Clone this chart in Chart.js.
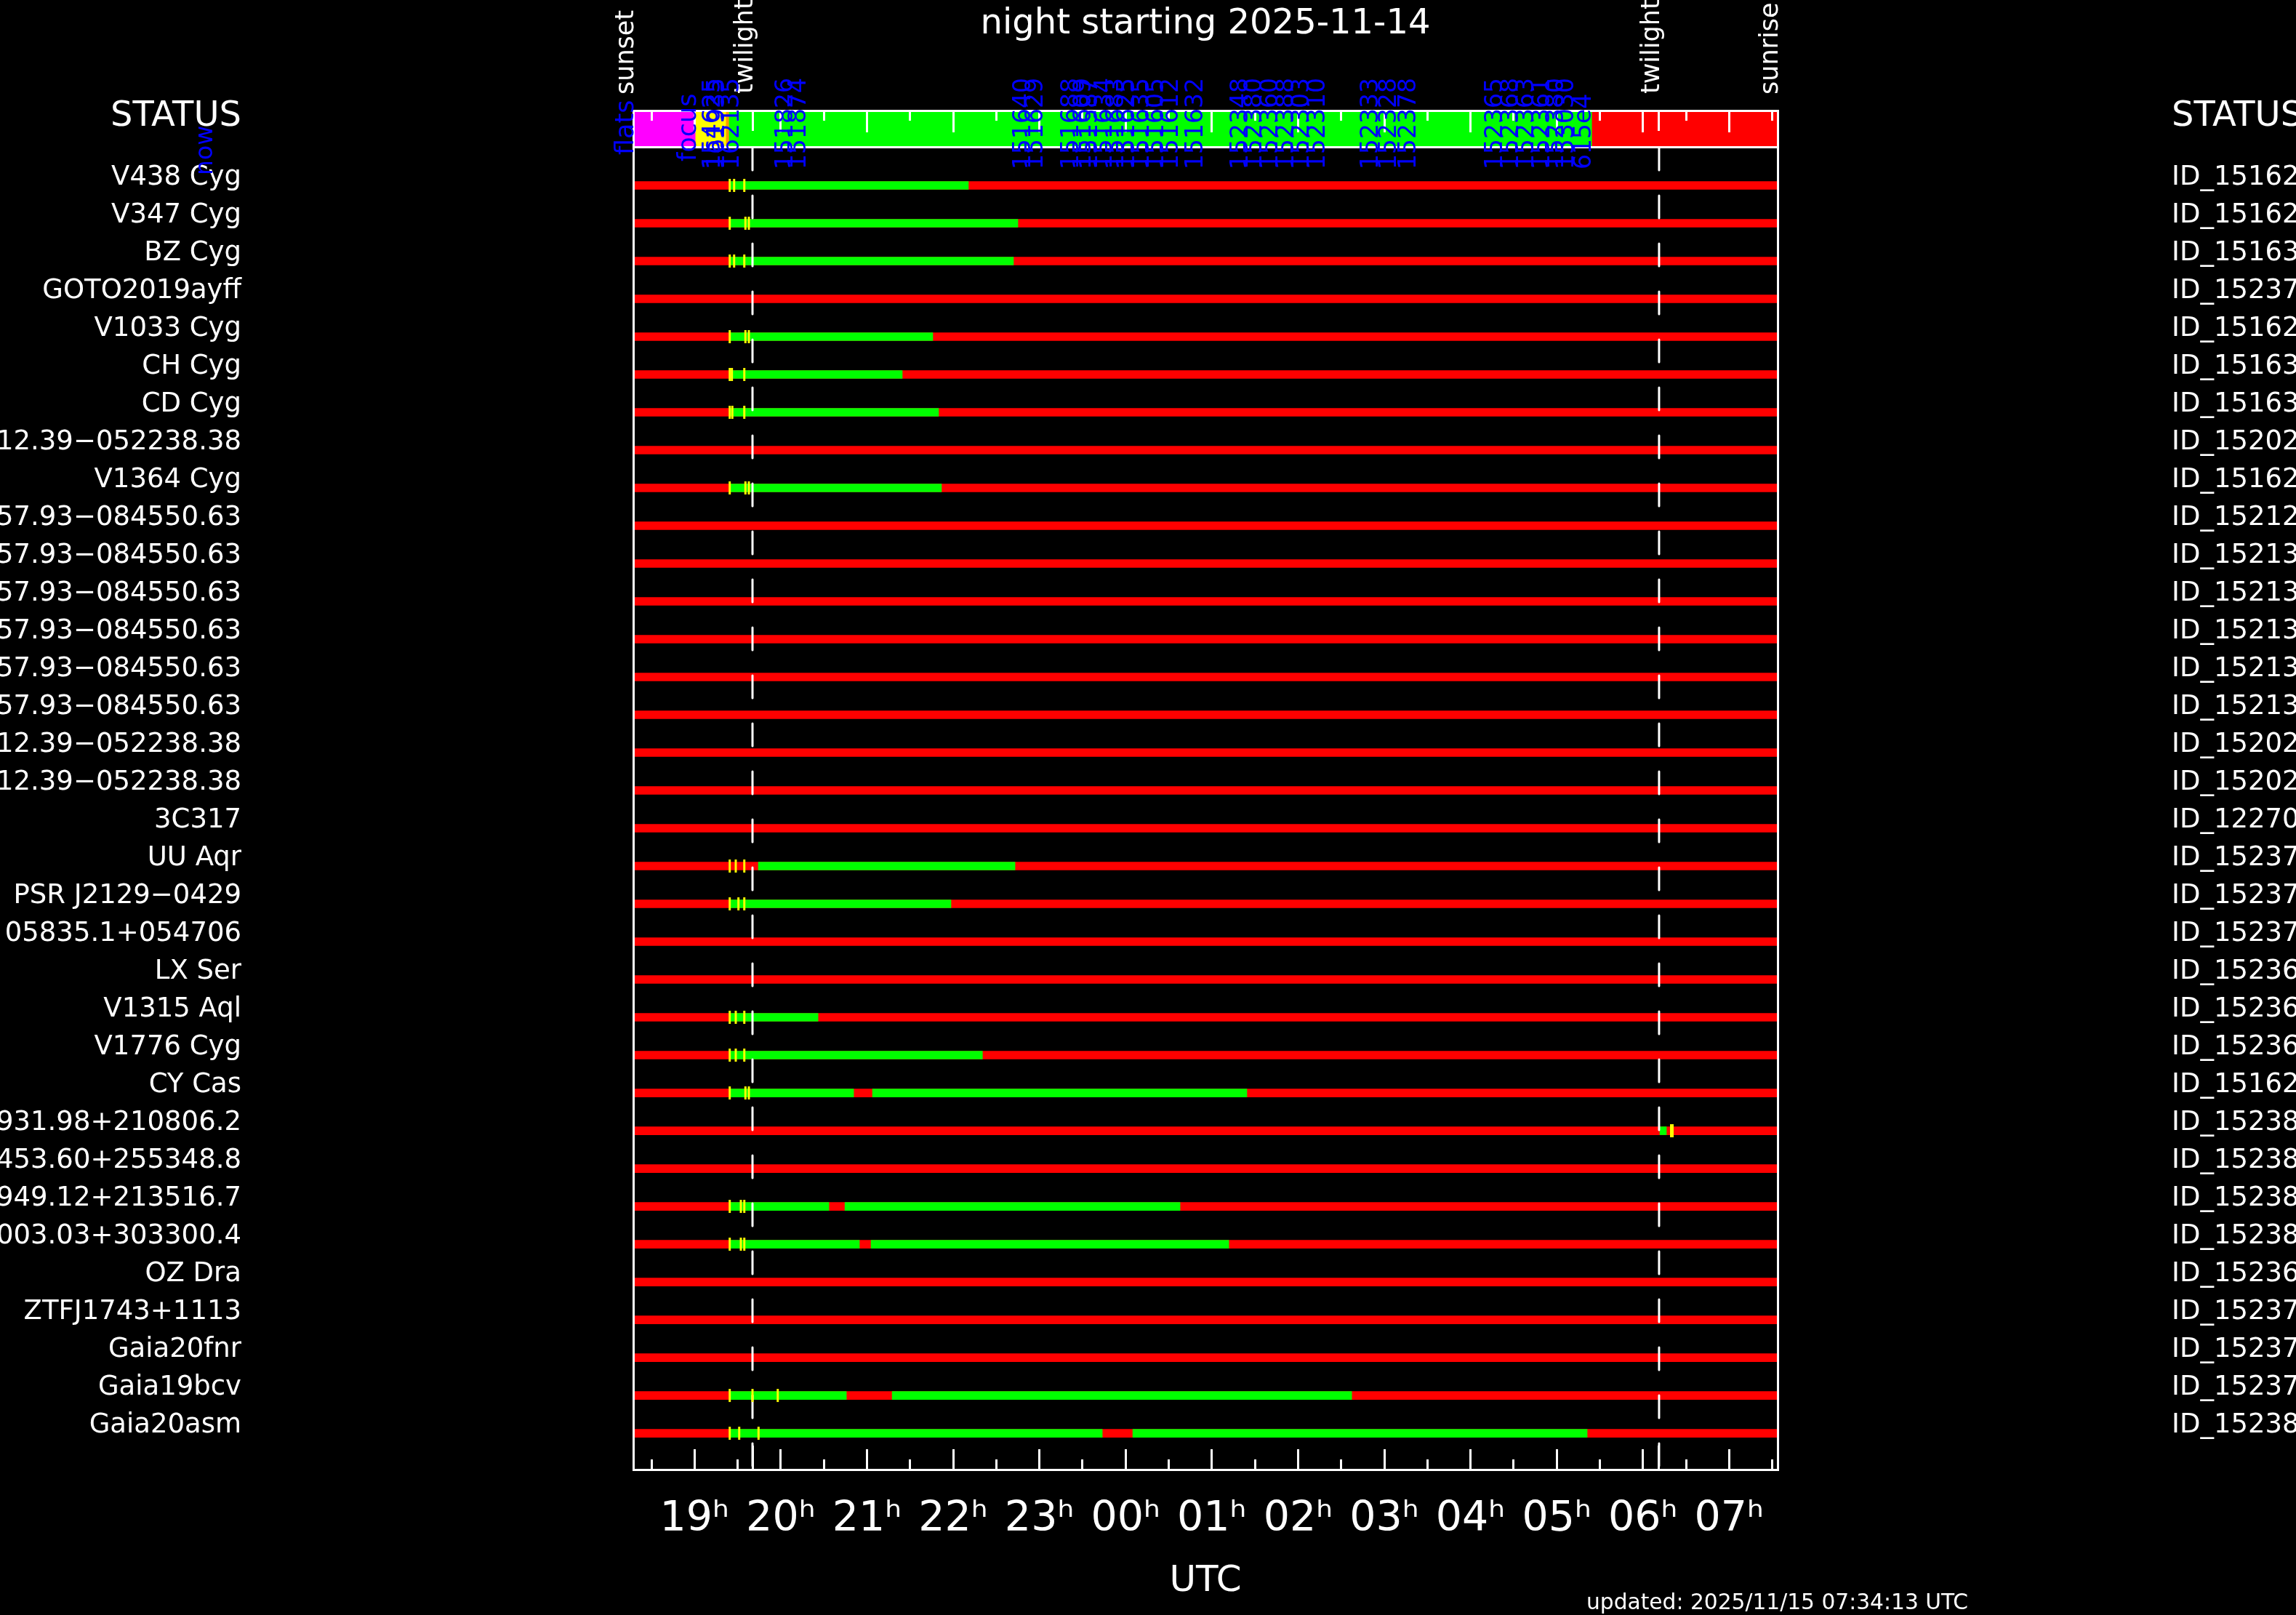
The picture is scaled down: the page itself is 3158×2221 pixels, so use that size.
<!DOCTYPE html>
<html><head><meta charset="utf-8">
<script src="https://cdn.jsdelivr.net/npm/chart.js@4.4.1/dist/chart.umd.min.js"></script>
<style>
html,body{margin:0;padding:0;background:#000;}
canvas{display:block;}
</style></head>
<body><canvas id="c" width="3158" height="2221"></canvas>
<script>
// ---------------- data ----------------
const TITLE = 'night starting 2025-11-14';
const UPDATED = 'updated: 2025/11/15 07:34:13 UTC';
const AXIS_TITLE = 'UTC';
const SUNSET = 18.289;          // decimal hours UTC (values > 24 are after midnight)
const SUNRISE = 31.562;
const TWILIGHT = [19.672, 30.187];
const NOW = 31.571;
const NOW_LABEL_T = 13.407;

const hourTicks = [19,20,21,22,23,24,25,26,27,28,29,30,31];
const hourLabels = ['19ʰ','20ʰ','21ʰ','22ʰ','23ʰ','00ʰ','01ʰ','02ʰ','03ʰ','04ʰ','05ʰ','06ʰ','07ʰ'];
const halfHourTicks = [18.5,19.5,20.5,21.5,22.5,23.5,24.5,25.5,26.5,27.5,28.5,29.5,30.5,31.5];

const targetNames = ['V438 Cyg','V347 Cyg','BZ Cyg','GOTO2019ayff','V1033 Cyg','CH Cyg','CD Cyg',
  '12.39−052238.38','V1364 Cyg','57.93−084550.63','57.93−084550.63','57.93−084550.63',
  '57.93−084550.63','57.93−084550.63','57.93−084550.63','12.39−052238.38','12.39−052238.38',
  '3C317','UU Aqr','PSR J2129−0429','05835.1+054706','LX Ser','V1315 Aql','V1776 Cyg','CY Cas',
  '931.98+210806.2','453.60+255348.8','949.12+213516.7','003.03+303300.4','OZ Dra',
  'ZTFJ1743+1113','Gaia20fnr','Gaia19bcv','Gaia20asm'];
const programIds = ['ID_15162','ID_15162','ID_15163','ID_15237','ID_15162','ID_15163','ID_15163',
  'ID_15202','ID_15162','ID_15212','ID_15213','ID_15213','ID_15213','ID_15213','ID_15213',
  'ID_15202','ID_15202','ID_12270','ID_15237','ID_15237','ID_15237','ID_15236','ID_15236',
  'ID_15236','ID_15162','ID_15238','ID_15238','ID_15238','ID_15238','ID_15236','ID_15237',
  'ID_15237','ID_15237','ID_15238'];

// observable (green) windows per target, [start, end] in hours
const greenSegments = [
  [[19.408,22.176]], [[19.408,22.750]], [[19.408,22.699]], [],
  [[19.408,21.763]], [[19.408,21.409]], [[19.408,21.830]], [],
  [[19.408,21.864]], [], [], [], [], [], [], [], [], [],
  [[19.740,22.717]], [[19.408,21.974]], [], [],
  [[19.408,20.432]], [[19.408,22.339]], [[19.408,20.845],[21.064,25.406]],
  [[30.196,30.272]], [], [[19.408,20.558],[20.744,24.631]], [[19.408,20.912],[21.047,25.196]],
  [], [], [], [[19.408,20.761],[21.292,26.622]], [[19.408,23.729],[24.083,29.353]]
];
// yellow markers per target (hours)
const yellowMarks = [
  [19.408,19.459,19.577],[19.408,19.590,19.630],[19.408,19.459,19.577],[],
  [19.408,19.590,19.630],[19.408,19.433,19.577],[19.408,19.438,19.577],[],
  [19.408,19.590,19.630],[],[],[],[],[],[],[],[],[],
  [19.408,19.478,19.577],[19.408,19.509,19.577],[],[],
  [19.408,19.478,19.577],[19.408,19.478,19.577],[19.408,19.590,19.630],
  [],[],[19.408,19.537,19.577],[19.408,19.537,19.577],
  [],[],[],[19.408,19.672,19.965],[19.408,19.518,19.742]
];
const wideMarkRows = [25];
const wideMarkTimes = [30.335];

// top status strip
const statusStart = [18.289, 19.013, 19.367, 19.402, 29.411];
const statusEnd   = [19.013, 19.367, 19.402, 29.411, 31.562];
const statusColors = ['#ff00ff','#ffff00','#ff9900','#00ff00','#ff0000'];

// blue labels in the status strip
const stripLabelText = ['flats','focus'];
const stripLabelTime = [18.289, 19.013];
const obsLabelTime = [19.293,19.343,19.512,20.136,20.288,22.893,23.037,23.450,23.594,23.669,23.838,
  23.973,24.099,24.268,24.436,24.605,24.892,25.415,25.575,25.761,25.946,26.123,26.309,26.924,
  27.135,27.363,28.366,28.552,28.729,28.914,29.075,29.193,29.395];
const obsLabelText = ['154625','161935','162135','151826','151874','151640','151629','151688',
  '151609','151587','151634','151683','151625','151635','151605','151612','151632','152348',
  '152380','152360','152388','152303','152310','152333','152328','152378','152365','152368',
  '152363','152361','152380','153030','615e4'];

// ---------------- layout constants ----------------
const FONT = "'DejaVu Sans', 'Liberation Sans', sans-serif";
const YMIN = -1.98, YMAX = 33.96;
const STATUS_ROW = -1.49, STATUS_BOTTOM = -1.0;
const LABEL_SHIFT = 0.2115, STATUS_LABEL_Y = -1.808;
const rows = targetNames.map((_, i) => i);

const leftTickValues = [STATUS_LABEL_Y].concat(rows.map(i => i - LABEL_SHIFT));
const leftLabels = ['STATUS'].concat(targetNames);
const rightLabels = ['STATUS'].concat(programIds);

// ---------------- datasets ----------------
const redData = rows.map(i => ({x: [SUNSET, SUNRISE], y: i}));
const greenData = [];
greenSegments.forEach((segs, i) => segs.forEach(s => greenData.push({x: [s[0], s[1]], y: i})));
const markData = [];
yellowMarks.forEach((ts, i) => ts.forEach(t => markData.push({x: t, y: i})));
const wideData = wideMarkRows.map((r, k) => ({x: wideMarkTimes[k], y: r}));
const statusData = statusStart.map((s, k) => ({x: [s, statusEnd[k]], y: STATUS_ROW}));

const barBase = {type: 'bar', indexAxis: 'y', xAxisID: 'x', yAxisID: 'y', grouped: false, borderWidth: 0, borderSkipped: false};
const datasets = [
  Object.assign({}, barBase, {label: 'unobservable', data: redData, backgroundColor: '#ff0000', barThickness: 11, order: 10}),
  Object.assign({}, barBase, {label: 'observable', data: greenData, backgroundColor: '#00ff00', barThickness: 11, order: 9}),
  Object.assign({}, barBase, {label: 'status', data: statusData, backgroundColor: statusColors, barThickness: 51, order: 9}),
];
TWILIGHT.forEach((t, k) => datasets.push({type: 'line', label: 'twilight' + k, xAxisID: 'x', yAxisID: 'y',
  data: [{x: t, y: STATUS_BOTTOM}, {x: t, y: YMAX}], borderColor: '#ffffff', borderWidth: 3,
  borderDash: [31, 35], borderCapStyle: 'round', pointRadius: 0, order: 7}));
datasets.push({type: 'line', label: 'marks', xAxisID: 'x', yAxisID: 'y', data: markData, showLine: false,
  pointStyle: 'line', pointRotation: 90, pointRadius: 9, pointBorderWidth: 3,
  pointBorderColor: '#ffff00', pointBackgroundColor: '#ffff00', borderColor: '#ffff00', order: 5});
datasets.push({type: 'line', label: 'wide marks', xAxisID: 'x', yAxisID: 'y', data: wideData, showLine: false,
  pointStyle: 'line', pointRotation: 90, pointRadius: 9, pointBorderWidth: 5,
  pointBorderColor: '#ffff00', pointBackgroundColor: '#ffff00', borderColor: '#ffff00', order: 5});
datasets.push({type: 'line', label: 'now', xAxisID: 'x', yAxisID: 'y', data: [{x: NOW, y: YMIN}, {x: NOW, y: YMAX}],
  borderColor: '#3333ff', borderWidth: 2, pointRadius: 0, clip: false, order: 4});

// ---------------- scales ----------------
function fixedTicks(vals) { return s => { s.ticks = vals.map(v => ({value: v})); }; }
function noPad(s) { s.paddingLeft = 0; s.paddingRight = 0; s.paddingTop = 0; s.paddingBottom = 0; }
function tickAxis(posY, vals, len, border) {
  return {type: 'linear', axis: 'x', position: {y: posY}, min: SUNSET, max: SUNRISE, offset: false, bounds: 'data',
    afterBuildTicks: fixedTicks(vals), afterFit: noPad, ticks: {display: false, padding: 0},
    grid: {display: true, offset: false, drawOnChartArea: false, drawTicks: true, tickLength: len, tickColor: '#ffffff',
      tickWidth: 3, lineWidth: 3, color: '#ffffff', z: 1},
    border: {display: !!border, color: '#ffffff', width: 3, z: 1}};
}

const scales = {
  x: {type: 'linear', position: 'bottom', min: SUNSET, max: SUNRISE, offset: false, bounds: 'data',
    afterBuildTicks: fixedTicks(hourTicks), afterFit: s => { noPad(s); s.height = 200; },
    ticks: {autoSkip: false, maxRotation: 0, padding: 63, color: '#ffffff',
      font: {family: FONT, size: 57}, callback: (v, i) => hourLabels[i]},
    grid: {display: true, offset: false, drawOnChartArea: false, drawTicks: true, tickLength: -28, tickColor: '#ffffff',
      tickWidth: 3, lineWidth: 3, color: '#ffffff', z: 1},
    border: {display: true, color: '#ffffff', width: 3, z: 1},
    title: {display: true, text: AXIS_TITLE, color: '#ffffff', font: {family: FONT, size: 50},
      padding: {top: 0, bottom: 16}}},
  y: {type: 'linear', position: 'left', reverse: true, min: YMIN, max: YMAX, offset: false, bounds: 'data',
    afterBuildTicks: fixedTicks(leftTickValues), afterFit: s => { noPad(s); s.width = 871; },
    ticks: {autoSkip: false, padding: 539, color: '#ffffff',
      font: c => ({family: FONT, size: c.index === 0 ? 48 : 37}), callback: (v, i) => leftLabels[i]},
    grid: {display: false, offset: false, drawTicks: false},
    border: {display: true, color: '#ffffff', width: 3, z: 1}},
  yR: {type: 'linear', position: 'right', reverse: true, min: YMIN, max: YMAX, offset: false, bounds: 'data',
    afterBuildTicks: fixedTicks(leftTickValues), afterFit: s => { noPad(s); s.width = 713; },
    ticks: {autoSkip: false, padding: 542, color: '#ffffff',
      font: c => ({family: FONT, size: c.index === 0 ? 48 : 37}), callback: (v, i) => rightLabels[i]},
    grid: {display: false, offset: false, drawTicks: false},
    border: {display: true, color: '#ffffff', width: 3, z: 1}},
  xMinor: tickAxis(YMAX, halfHourTicks, -14, false),
  xTw: tickAxis(YMAX, TWILIGHT, -33, false),
  xTop: tickAxis(YMIN, hourTicks, 28, true),
  xTopMinor: tickAxis(YMIN, halfHourTicks, 14, false),
  xTwTop: tickAxis(YMIN, TWILIGHT, 28, false),
  xSep: Object.assign(tickAxis(STATUS_BOTTOM, [], 0, true), {grid: {display: false}})
};

// ---------------- annotations (rotated event labels) ----------------
const annotations = {
  id: 'annotations',
  afterDraw(chart) {
    const ctx = chart.ctx, xs = chart.scales.x, ys = chart.scales.y;
    const top = chart.chartArea.top;
    const stripBottom = ys.getPixelForValue(STATUS_BOTTOM);
    function vtext(text, t, y, color, size) {
      ctx.save();
      ctx.translate(xs.getPixelForValue(t), y);
      ctx.rotate(-Math.PI / 2);
      ctx.font = size + 'px ' + FONT;
      ctx.fillStyle = color;
      ctx.textAlign = 'left';
      ctx.textBaseline = 'alphabetic';
      ctx.fillText(text, 0, 0);
      ctx.restore();
    }
    vtext('sunset', SUNSET, top - 22, '#ffffff', 35);
    vtext('sunrise', SUNRISE, top - 22, '#ffffff', 35);
    TWILIGHT.forEach(t => vtext('twilight', t, top - 23, '#ffffff', 35));
    vtext(stripLabelText[0], stripLabelTime[0], stripBottom + 10, '#0000ff', 35);
    vtext(stripLabelText[1], stripLabelTime[1], stripBottom + 19, '#0000ff', 35);
    obsLabelTime.forEach((t, k) => vtext(obsLabelText[k], t, stripBottom + 30, '#0000ff', 33));
    vtext('now', NOW_LABEL_T, stripBottom + 38, '#0000ff', 33);
    ctx.save();
    ctx.font = '29.7px ' + FONT;
    ctx.fillStyle = '#ffffff';
    ctx.textAlign = 'left';
    ctx.textBaseline = 'alphabetic';
    ctx.fillText(UPDATED, 2182, 2213);
    ctx.restore();
  }
};

Chart.defaults.font.family = FONT;
Chart.defaults.color = '#ffffff';

new Chart(document.getElementById('c'), {
  type: 'bar',
  data: {datasets: datasets},
  options: {
    responsive: false, animation: false, devicePixelRatio: 1,
    layout: {padding: 0},
    plugins: {
      legend: {display: false}, tooltip: {enabled: false},
      title: {display: true, text: TITLE, color: '#ffffff', fullSize: false,
        font: {family: FONT, size: 48, weight: 'normal'}, padding: {top: 5, bottom: 89.4}}
    },
    scales: scales
  },
  plugins: [annotations]
});
</script>
</body></html>
